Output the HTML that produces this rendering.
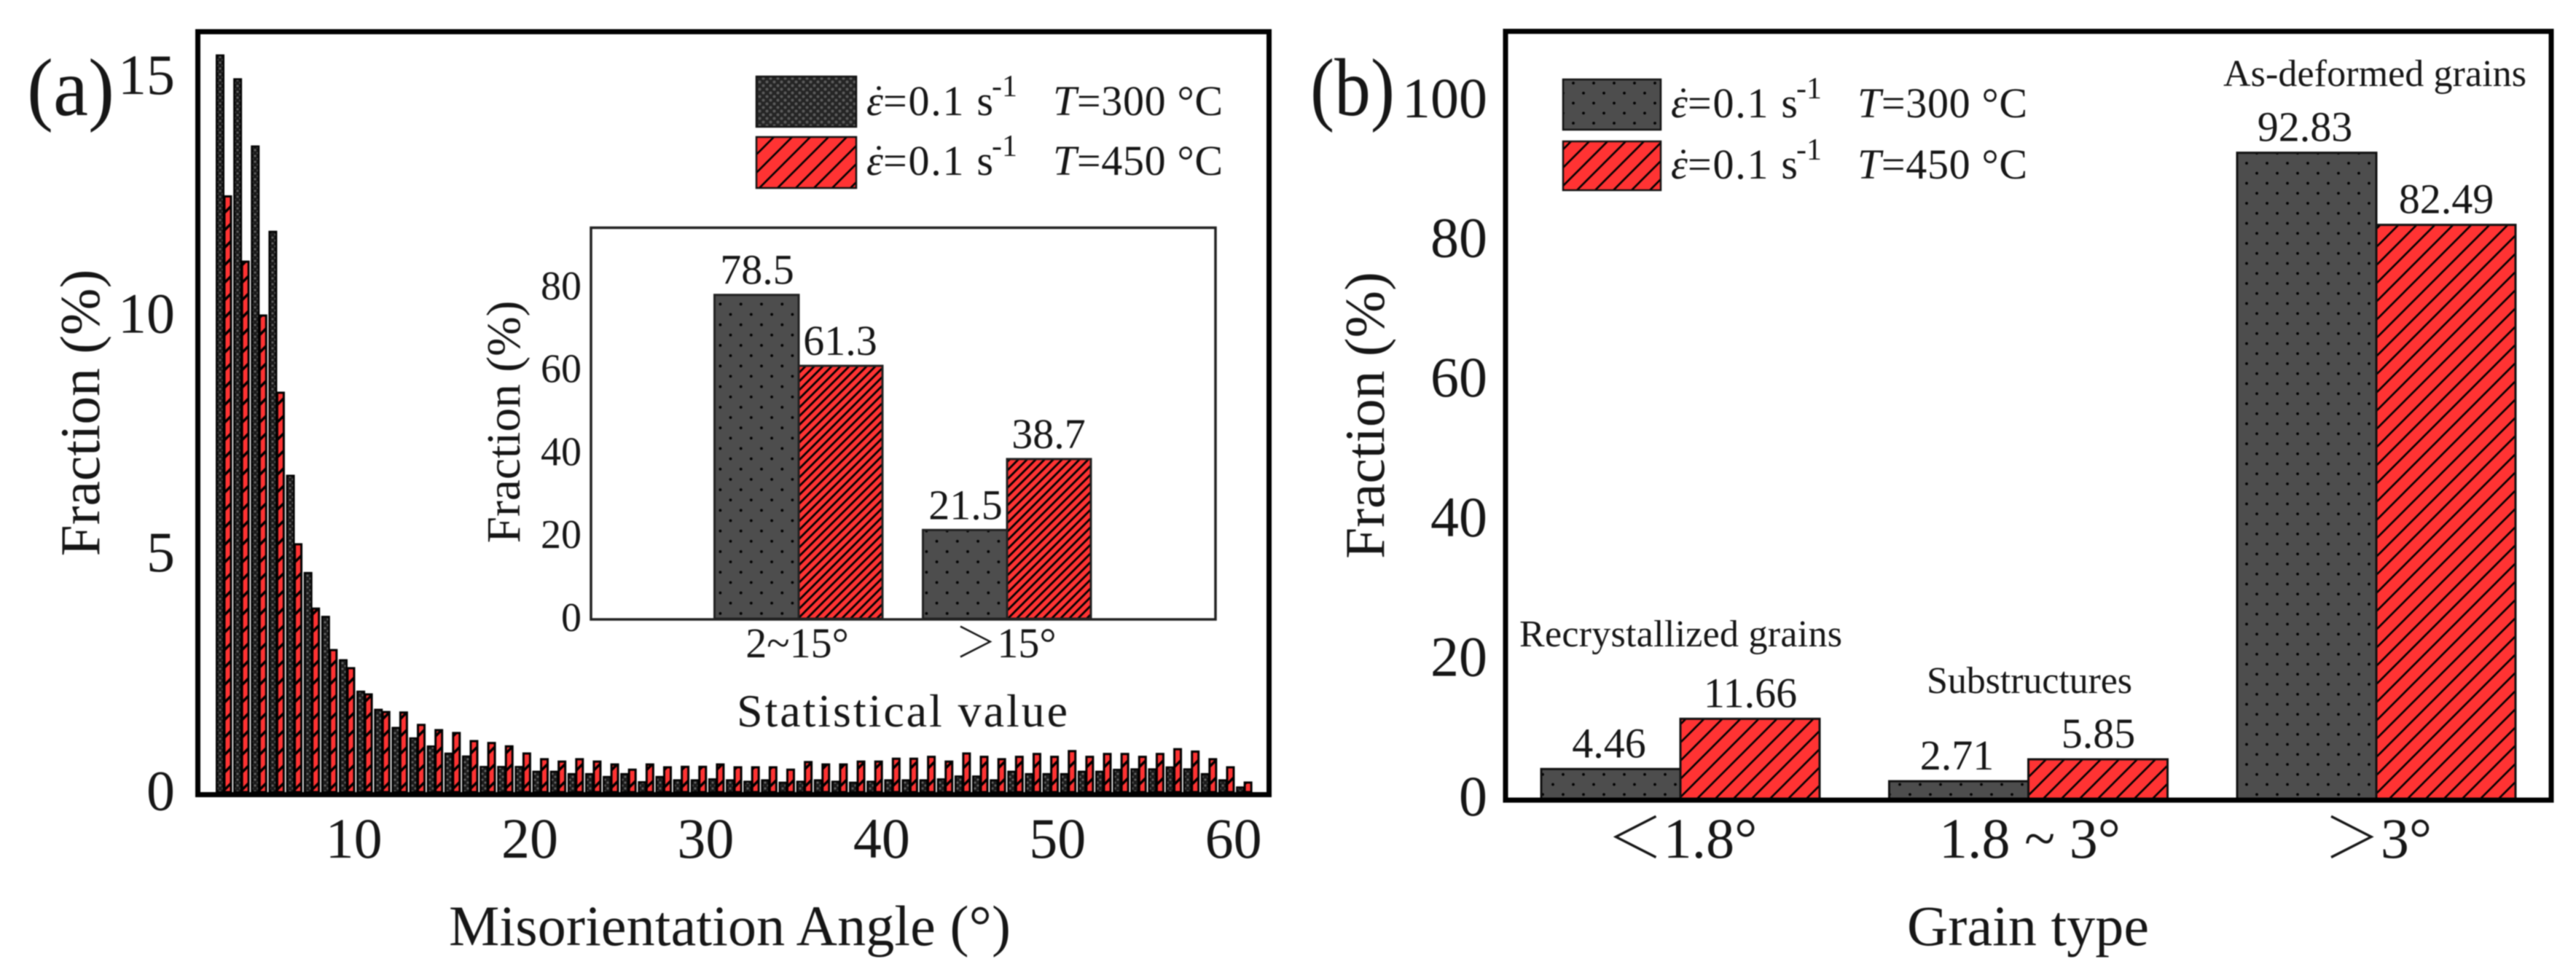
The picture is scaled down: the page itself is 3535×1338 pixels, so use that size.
<!DOCTYPE html>
<html lang="en">
<head>
<meta charset="utf-8">
<title>Misorientation angle and grain type fractions</title>
<style>
html,body{margin:0;padding:0;background:#fff;width:3535px;height:1338px;overflow:hidden}
#figure{display:block;filter:blur(0.7px)}
text{font-family:"Liberation Serif","Noto Serif CJK SC",serif;fill:#161616}
</style>
</head>
<body>
<svg id="figure" xmlns="http://www.w3.org/2000/svg" width="3535" height="1338" viewBox="0 0 3535 1338">
<defs>
<pattern id="p-main-dark" patternUnits="userSpaceOnUse" width="8" height="8"><rect width="8" height="8" fill="#1c1c1c"/><circle cx="2" cy="2" r="1.5" fill="#666"/><circle cx="6" cy="6" r="1.5" fill="#666"/></pattern>
<pattern id="p-main-red" patternUnits="userSpaceOnUse" width="24" height="24"><rect width="24" height="24" fill="#ff3333"/><path d="M-3,27L27,-3M-3,3L3,-3M21,27L27,21" stroke="#000" stroke-width="3.5"/></pattern>
<pattern id="p-dots" patternUnits="userSpaceOnUse" width="28" height="27.5"><rect width="28" height="27.5" fill="#4d4d4d"/><circle cx="3" cy="4" r="1.9" fill="#000"/><circle cx="17" cy="17.75" r="1.9" fill="#000"/></pattern>
<pattern id="p-dots-inset" patternUnits="userSpaceOnUse" width="28.3" height="28.3"><rect width="28.3" height="28.3" fill="#4d4d4d"/><circle cx="12" cy="7" r="1.9" fill="#000"/><circle cx="26.2" cy="21.2" r="1.9" fill="#000"/></pattern>
<pattern id="p-hatch-inset" patternUnits="userSpaceOnUse" width="12" height="12"><rect width="12" height="12" fill="#ff3333"/><path d="M-2,14L14,-2M-2,2L2,-2M10,14L14,10" stroke="#000" stroke-width="2.8"/></pattern>
<pattern id="p-hatch" patternUnits="userSpaceOnUse" width="25" height="25"><rect width="25" height="25" fill="#ff3333"/><path d="M-2,27L27,-2M-2,2L2,-2M23,27L27,23" stroke="#000" stroke-width="2.6"/></pattern>
<pattern id="p-cross" patternUnits="userSpaceOnUse" width="10" height="10"><rect width="10" height="10" fill="#252525"/><circle cx="2.5" cy="2.5" r="2" fill="#5c5c5c"/><circle cx="7.5" cy="7.5" r="2" fill="#5c5c5c"/></pattern>
</defs>

<g id="panel-a-bars"></g>
<rect x="271.5" y="43.5" width="1470" height="1047" fill="none" stroke="#000" stroke-width="7"/>
<text x="37" y="158" font-size="112" textLength="120" lengthAdjust="spacingAndGlyphs">(a)</text>
<text transform="translate(136,566.5) rotate(-90)" text-anchor="middle" font-size="77.5">Fraction (%)</text>
<text x="616" y="1297" font-size="78" textLength="771">Misorientation Angle (°)</text>
<g id="panel-a-ticks"></g>

<g>
<rect x="1038" y="105" width="137" height="69" fill="url(#p-cross)" stroke="#111" stroke-width="2.5"/>
<text x="1189" y="158" font-size="58" font-style="italic">ε</text>
<circle cx="1206" cy="121" r="2.8" fill="#161616"/>
<text x="1212" y="158" font-size="58" textLength="151">=0.1 s</text>
<text x="1361" y="132" font-size="42">-1</text>
<text x="1445" y="158" font-size="58" textLength="233"><tspan font-style="italic">T</tspan>=300 °C</text>
<rect x="1038" y="188" width="137" height="70" fill="url(#p-hatch)" stroke="#111" stroke-width="2.5"/>
<text x="1189" y="240" font-size="58" font-style="italic">ε</text>
<circle cx="1206" cy="203" r="2.8" fill="#161616"/>
<text x="1212" y="240" font-size="58" textLength="151">=0.1 s</text>
<text x="1361" y="214" font-size="42">-1</text>
<text x="1445" y="240" font-size="58" textLength="233"><tspan font-style="italic">T</tspan>=450 °C</text>
</g>

<rect x="811" y="312.5" width="857" height="537.5" fill="#fff" stroke="#222" stroke-width="3.5"/>
<g id="inset"></g>
<text transform="translate(713,579) rotate(-90)" text-anchor="middle" font-size="65.5">Fraction (%)</text>
<text x="1011" y="997" font-size="64" textLength="454">Statistical value</text>

<g id="panel-b-bars"></g>
<rect x="2066" y="43" width="1435" height="1055" fill="none" stroke="#000" stroke-width="7"/>
<text x="1798" y="158" font-size="112" textLength="116" lengthAdjust="spacingAndGlyphs">(b)</text>
<text transform="translate(1899,570) rotate(-90)" text-anchor="middle" font-size="77.5">Fraction (%)</text>
<text x="2617" y="1297" font-size="78" textLength="332">Grain type</text>
<g id="panel-b-ticks"></g>
<text x="3051" y="118" font-size="52" textLength="416">As-deformed grains</text>
<text x="2085" y="887" font-size="52" textLength="443">Recrystallized grains</text>
<text x="2644" y="951" font-size="52" textLength="282">Substructures</text>

<g>
<rect x="2145" y="109" width="134" height="69" fill="url(#p-dots)" stroke="#111" stroke-width="2.5"/>
<text x="2293" y="161" font-size="58" font-style="italic">ε</text>
<circle cx="2310" cy="124" r="2.8" fill="#161616"/>
<text x="2316" y="161" font-size="58" textLength="151">=0.1 s</text>
<text x="2465" y="135" font-size="42">-1</text>
<text x="2549" y="161" font-size="58" textLength="233"><tspan font-style="italic">T</tspan>=300 °C</text>
<rect x="2145" y="194" width="134" height="67" fill="url(#p-hatch)" stroke="#111" stroke-width="2.5"/>
<text x="2293" y="245" font-size="58" font-style="italic">ε</text>
<circle cx="2310" cy="208" r="2.8" fill="#161616"/>
<text x="2316" y="245" font-size="58" textLength="151">=0.1 s</text>
<text x="2465" y="219" font-size="42">-1</text>
<text x="2549" y="245" font-size="58" textLength="233"><tspan font-style="italic">T</tspan>=450 °C</text>
</g>
</svg>

<script>
// Panel (a): misorientation histogram
const angleBins = [2,3,4,5,6,7,8,9,10,11,12,13,14,15,16,17,18,19,20,21,22,23,24,25,26,27,28,29,30,31,32,33,34,35,36,37,38,39,40,41,42,43,44,45,46,47,48,49,50,51,52,53,54,55,56,57,58,59,60];
const fraction300 = [15.46,14.96,13.55,11.76,6.64,4.6,3.68,2.77,2.11,1.73,1.35,1.13,0.96,0.81,0.75,0.53,0.53,0.53,0.43,0.43,0.38,0.38,0.32,0.38,0.21,0.32,0.25,0.25,0.27,0.25,0.22,0.25,0.2,0.22,0.25,0.22,0.2,0.22,0.25,0.25,0.25,0.27,0.33,0.33,0.25,0.43,0.38,0.38,0.38,0.43,0.43,0.47,0.48,0.48,0.52,0.48,0.38,0.25,0.1];
const fraction450 = [12.5,11.13,10.0,8.38,5.2,3.85,2.98,2.6,2.05,1.68,1.67,1.41,1.3,1.24,1.07,1.03,0.96,0.81,0.69,0.64,0.69,0.64,0.58,0.47,0.58,0.52,0.53,0.53,0.58,0.52,0.52,0.52,0.47,0.63,0.58,0.58,0.64,0.64,0.7,0.7,0.74,0.64,0.81,0.74,0.69,0.74,0.8,0.74,0.86,0.74,0.8,0.8,0.74,0.8,0.9,0.85,0.69,0.52,0.2];
const panelAYTicks = [0,5,10,15];
const panelAXTicks = [10,20,30,40,50,60];

// Inset
const insetCategories = ["2~15°","＞15°"];
const inset300 = [78.5,21.5];
const inset450 = [61.3,38.7];
const insetYTicks = [0,20,40,60,80];

// Panel (b)
const grainCategories = ["＜1.8°","1.8 ~ 3°","＞3°"];
const grain300 = [4.46,2.71,92.83];
const grain450 = [11.66,5.85,82.49];
const panelBYTicks = [0,20,40,60,80,100];

const NS = "http://www.w3.org/2000/svg";
const gA = document.getElementById("panel-a-bars");
const gATicks = document.getElementById("panel-a-ticks");
const gInset = document.getElementById("inset");
const gB = document.getElementById("panel-b-bars");
const gBTicks = document.getElementById("panel-b-ticks");

function xA(d){return 295.5 + 24.14 * (d - 2);}
function yA(v){return 1087 - 65.4 * v;}
function yATickBase(v){return 1111.6 - 65.5 * v;}
function xInset(i){return 1096 + 286 * i;}
function yInset(v){return 849 - 5.66 * v;}
function yInsetTickBase(v){return 866 - 5.69 * v;}
function xB(i){return 2306 + 477.5 * i;}
function yB(v){return 1098 - 9.57 * v;}
function yBTickBase(v){return 1119 - 9.58 * v;}

function rect(parent,x,y,w,h,fill,stroke,sw){
  const el = document.createElementNS(NS,"rect");
  el.setAttribute("x",x);
  el.setAttribute("y",y);
  el.setAttribute("width",w);
  el.setAttribute("height",Math.max(h,0));
  el.setAttribute("fill",fill);
  el.setAttribute("stroke",stroke);
  el.setAttribute("stroke-width",sw);
  parent.appendChild(el);
  return el;
}
function label(parent,x,y,size,anchor,str){
  const el = document.createElementNS(NS,"text");
  el.setAttribute("x",x);
  el.setAttribute("y",y);
  el.setAttribute("font-size",size);
  el.setAttribute("text-anchor",anchor);
  el.textContent = str;
  parent.appendChild(el);
  return el;
}

// Panel (a) marks
angleBins.forEach(function(d,i){
  const b = rect(gA,xA(d)+1.75,yA(fraction300[i]),9.5,1087-yA(fraction300[i]),"url(#p-main-dark)","#000",2.5);
  
  
});
angleBins.forEach(function(d,i){
  const b = rect(gA,xA(d)+12.5,yA(fraction450[i]),9,1087-yA(fraction450[i]),"url(#p-main-red)","#000",3);
  
  
});
panelAYTicks.forEach(function(t){
  const l = label(gATicks,240,yATickBase(t),78,"end",String(t));
  
  
});
panelAXTicks.forEach(function(t){
  const l = label(gATicks,xA(t)-3,1177,78,"middle",String(t));
  
  
});

// Inset marks
insetCategories.forEach(function(c,i){
  const a = rect(gInset,xInset(i)-115.5,yInset(inset300[i]),115.5,849-yInset(inset300[i]),"url(#p-dots-inset)","#222",3);
  
  
  const b = rect(gInset,xInset(i),yInset(inset450[i]),115,849-yInset(inset450[i]),"url(#p-hatch-inset)","#222",3);
  
  
  const la = label(gInset,xInset(i)-57,yInset(inset300[i])-15,58,"middle",inset300[i].toFixed(1));
  
  
  const lb = label(gInset,xInset(i)+57,yInset(inset450[i])-15,58,"middle",inset450[i].toFixed(1));
  
  
  const lc = label(gInset,xInset(i)-2,902,58,"middle",c);
  
  
});
insetYTicks.forEach(function(t){
  const l = label(gInset,798,yInsetTickBase(t),56,"end",String(t));
  
  
});

// Panel (b) marks
grainCategories.forEach(function(c,i){
  const a = rect(gB,xB(i)-191,yB(grain300[i]),191,1098-yB(grain300[i]),"url(#p-dots)","#111",3);
  
  
  const b = rect(gB,xB(i),yB(grain450[i]),191,1098-yB(grain450[i]),"url(#p-hatch)","#111",3);
  
  
  const la = label(gB,xB(i)-98,yB(grain300[i])-16,58,"middle",grain300[i].toFixed(2));
  
  
  const lb = label(gB,xB(i)+96,yB(grain450[i])-16,58,"middle",grain450[i].toFixed(2));
  
  
  const lc = label(gB,xB(i)+2,1177,78,"middle",c);
  
  
});
panelBYTicks.forEach(function(t){
  const l = label(gBTicks,2041,yBTickBase(t),78,"end",String(t));
  
  
});
</script>
</body>
</html>
